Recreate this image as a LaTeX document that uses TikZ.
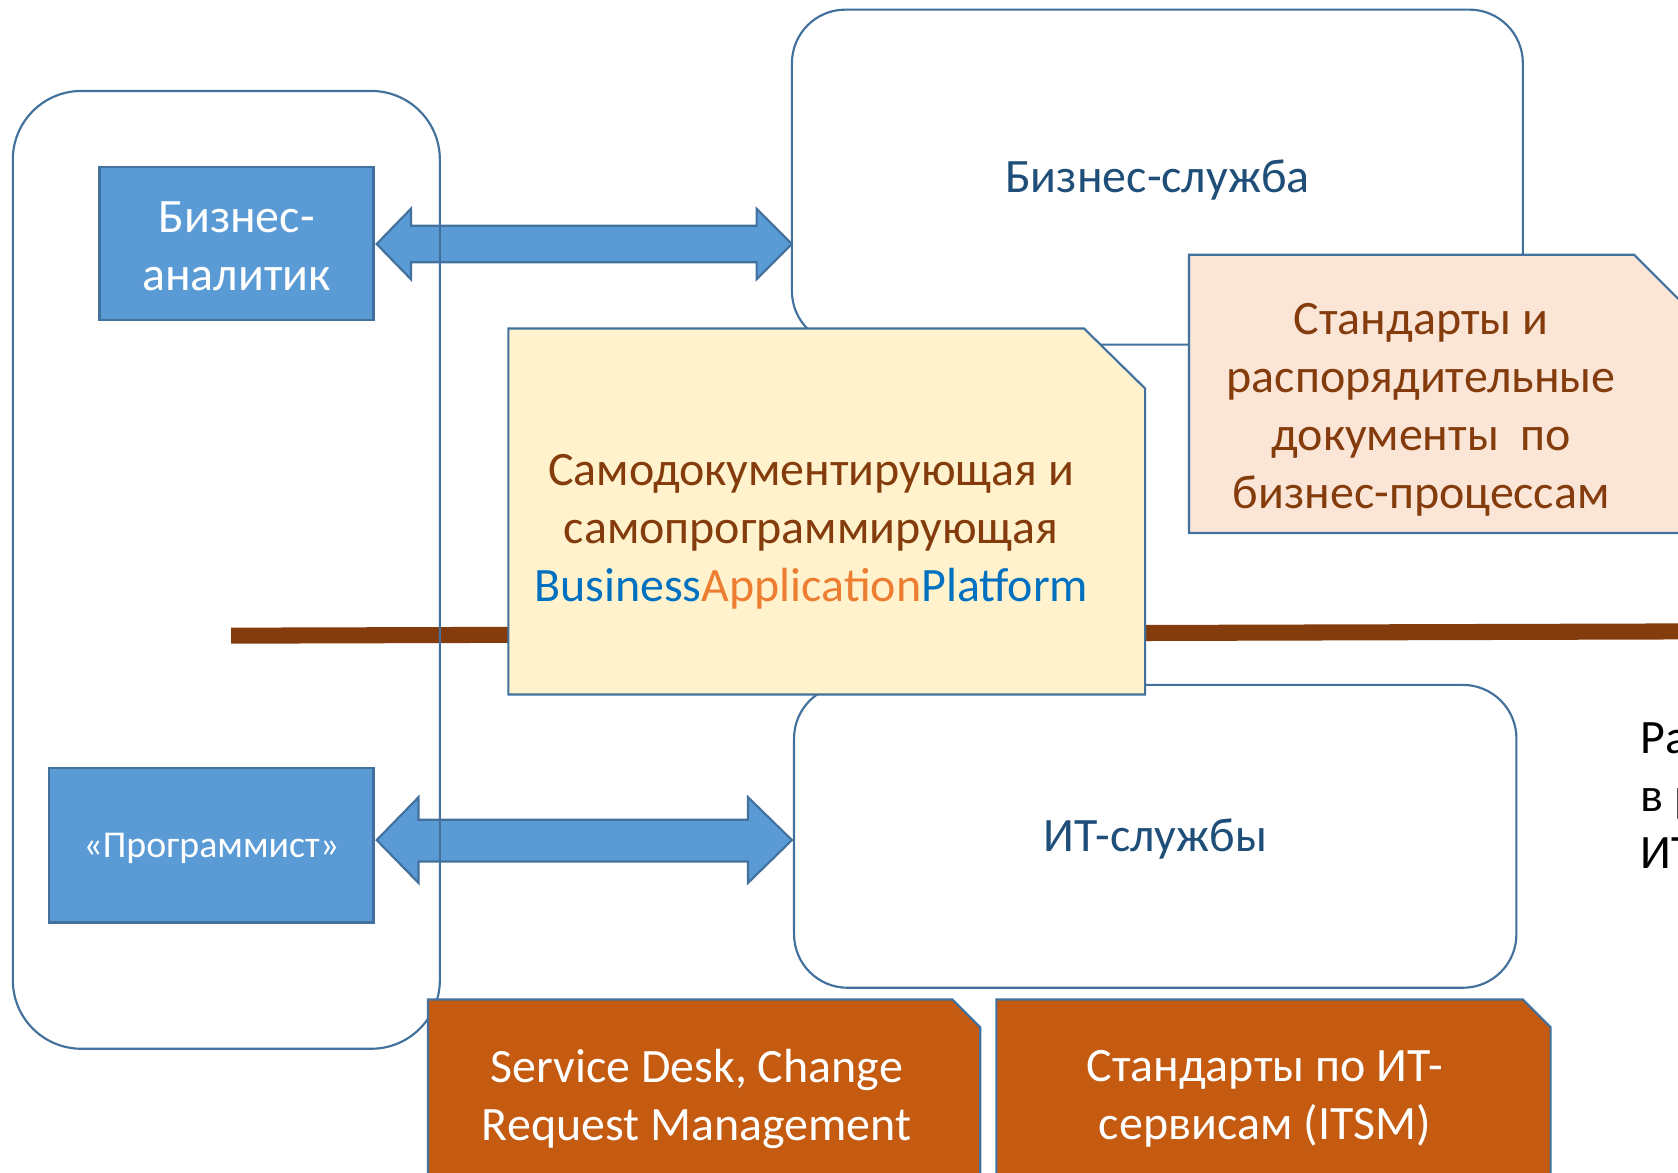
\documentclass[tikz,border=0pt]{standalone}
\usepackage{fontspec}
\setmainfont{Carlito}
\definecolor{bordblue}{HTML}{41719C}
\definecolor{boxblue}{HTML}{5B9BD5}
\definecolor{darkblue}{HTML}{1F4E79}
\definecolor{brownc}{HTML}{843C0C}
\definecolor{yellowf}{HTML}{FFF2CC}
\definecolor{pinkf}{HTML}{FBE5D6}
\definecolor{orangef}{HTML}{C55A11}
\definecolor{txtblue}{HTML}{0070C0}
\definecolor{txtorange}{HTML}{ED7D31}
\begin{document}
\begin{tikzpicture}[x=0.5pt,y=-0.5pt,
  bigfont/.style={font=\fontsize{22.4}{27}\selectfont},
  rbox/.style={draw=bordblue,line width=1pt,rounded corners=25pt,inner sep=0pt},
  bluebox/.style={draw=bordblue,fill=boxblue,line width=1pt,inner sep=0pt},
  notebox/.style={draw=bordblue,line width=1pt},
  dblarrow/.style={draw=bordblue,fill=boxblue,line width=1pt},
  txt/.style={bigfont,align=center,inner sep=0pt}]
\useasboundingbox (0,0) rectangle (1568,1096);
\clip (0,0) rectangle (1568,1096);
\fill[white] (0,0) rectangle (1568,1096);

% brown divider
\coordinate (divL) at (216,594);
\coordinate (divR) at (1580,590);
\draw[brownc,line width=7.5pt] (divL) -- (divR);

% service boxes
\node[rbox,fill=white,minimum width=341.5pt,minimum height=156.5pt] (biz) at (1081.5,165.5) {};
\node[txt,text=darkblue] (bizlbl) at (1081.5,168.5) {Бизнес-служба};
\node[rbox,fill=white,minimum width=337.5pt,minimum height=141.5pt] (it) at (1079.5,781.5) {};
\node[txt,text=darkblue] (itlbl) at (1079.5,784.5) {ИТ-службы};

% arrows
\draw[dblarrow] (352,228) -- (384,195) -- (384,211) -- (707,211) -- (707,195) -- (740,228)
  -- (707,261) -- (707,245) -- (384,245) -- (384,261) -- cycle;
\draw[dblarrow] (352,785) -- (391,745) -- (391,766) -- (699,766) -- (699,745) -- (740,785)
  -- (699,825) -- (699,805) -- (391,805) -- (391,825) -- cycle;

% left group frame
\node[draw=bordblue,line width=1pt,rounded corners=32pt,inner sep=0pt,
  minimum width=199.5pt,minimum height=447.5pt] (left) at (211.5,532.5) {};

% role boxes
\node[bluebox,minimum width=128pt,minimum height=71.5pt] (analyst) at (221,227.5) {};
\node[txt,text=white] (analystlbl) at (221,230) {Бизнес-\\аналитик};
\node[bluebox,minimum width=151.5pt,minimum height=72pt] (prog) at (197.5,790) {};
\node[inner sep=0pt,text=white,font=\fontsize{17.7}{21}\selectfont] (proglbl) at (197.5,793) {«Программист»};

% yellow note
\draw[notebox,fill=yellowf] (475,307) -- (1013,307) -- (1070,363) -- (1070,649) -- (475,649) -- cycle;
\node[txt,text=brownc] (bap) at (758,497)
  {Самодокументирующая и\\самопрограммирующая\\{\color{txtblue}Business}{\color{txtorange}Application}{\color{txtblue}Platform}};

% pink note
\draw[notebox,fill=pinkf] (1111,238) -- (1527,238) -- (1585,296) -- (1585,498) -- (1111,498) -- cycle;
\node[txt,text=brownc] (std) at (1328,383)
  {Стандарты и\\распорядительные\\документы\ \ по\\бизнес-процессам};

% orange notes
\draw[notebox,fill=orangef] (400,934) -- (890,934) -- (916,960) -- (916,1110) -- (400,1110) -- cycle;
\node[txt,text=white] (sd) at (651,1027) {Service Desk, Change\\Request Management};
\draw[notebox,fill=orangef] (931,934) -- (1423,934) -- (1449,960) -- (1449,1110) -- (931,1110) -- cycle;
\node[txt,text=white] (itsm) at (1182,1027) {Стандарты по ИТ-\\сервисам (ITSM)};

% clipped right text
\node[bigfont,anchor=base west,inner sep=0pt] (r1) at (1533,704) {Ра};
\node[bigfont,anchor=base west,inner sep=0pt] (r2) at (1533,758) {в р};
\node[bigfont,anchor=base west,inner sep=0pt] (r3) at (1533,812) {ИТ};
\end{tikzpicture}
\end{document}
